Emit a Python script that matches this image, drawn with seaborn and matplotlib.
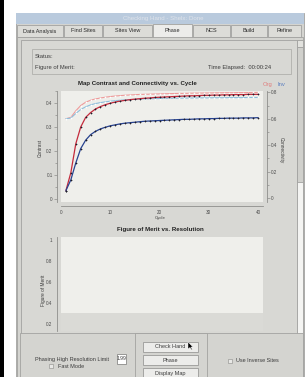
import pandas as pd
import seaborn as sns
import matplotlib.pyplot as plt
from matplotlib.patches import Rectangle, Polygon
from matplotlib.ticker import MultipleLocator, FuncFormatter

# chart data
cycles = list(range(1, 41))
contrast_org = [0.035, 0.110, 0.230, 0.300, 0.340, 0.360, 0.375, 0.385, 0.393, 0.399,
                0.404, 0.408, 0.411, 0.414, 0.416, 0.418, 0.420, 0.421, 0.423, 0.424,
                0.425, 0.426, 0.427, 0.428, 0.429, 0.430, 0.430, 0.431, 0.432, 0.432,
                0.433, 0.433, 0.434, 0.434, 0.435, 0.435, 0.435, 0.436, 0.436, 0.436]
contrast_inv = [0.035, 0.080, 0.150, 0.210, 0.245, 0.268, 0.282, 0.292, 0.299, 0.305,
                0.309, 0.313, 0.316, 0.318, 0.320, 0.322, 0.324, 0.325, 0.326, 0.327,
                0.328, 0.329, 0.330, 0.331, 0.332, 0.332, 0.333, 0.334, 0.334, 0.335,
                0.335, 0.336, 0.336, 0.337, 0.337, 0.337, 0.338, 0.338, 0.338, 0.339]
connect_org = [0.600, 0.610, 0.660, 0.700, 0.725, 0.740, 0.750, 0.757, 0.763, 0.768,
               0.772, 0.775, 0.778, 0.780, 0.782, 0.784, 0.785, 0.786, 0.787, 0.788,
               0.789, 0.790, 0.791, 0.792, 0.792, 0.793, 0.794, 0.794, 0.795, 0.795,
               0.796, 0.796, 0.797, 0.797, 0.797, 0.798, 0.798, 0.798, 0.799, 0.799]
connect_inv = [0.600, 0.605, 0.640, 0.670, 0.690, 0.705, 0.715, 0.722, 0.728, 0.733,
               0.737, 0.740, 0.743, 0.745, 0.747, 0.749, 0.750, 0.751, 0.752, 0.753,
               0.754, 0.755, 0.755, 0.756, 0.756, 0.757, 0.757, 0.758, 0.758, 0.758,
               0.759, 0.759, 0.759, 0.760, 0.760, 0.760, 0.760, 0.761, 0.761, 0.761]
tab_names = ['Data Analysis', 'Find Sites', 'Sites View', 'Phase', 'NCS', 'Build', 'Refine']

sns.set_theme(style='white')
plt.rcParams['font.family'] = ['Liberation Sans', 'DejaVu Sans']

W, H = 305, 377
fig = plt.figure(figsize=(W / 100, H / 100), dpi=100)
fig.patch.set_facecolor('white')

GUI = '#d4d4d0'
FACE = '#efefeb'
EDGE = '#a2a2a0'
TXT = '#3c3c3c'


def fbox(x0, y0, x1, y1):
    # pixel box (top-left origin) -> figure fraction rect
    return [x0 / W, 1 - y1 / H, (x1 - x0) / W, (y1 - y0) / H]


# background layer for the window chrome
bg = fig.add_axes([0, 0, 1, 1])
bg.set_xlim(0, W)
bg.set_ylim(H, 0)
bg.axis('off')
bg.set_zorder(-5)


def rect(x0, y0, x1, y1, fc, ec='none', lw=0.6):
    bg.add_patch(Rectangle((x0, y0), x1 - x0, y1 - y0, facecolor=fc, edgecolor=ec, linewidth=lw))


def label(x, y, s, size=4.2, **kw):
    kw.setdefault('color', TXT)
    kw.setdefault('ha', 'left')
    bg.text(x, y, s, fontsize=size, va='center', **kw)


rect(0, 0, 4, H, 'black')
rect(16, 13, 304, H, GUI, EDGE)
rect(16, 13, 304, 24, '#b9cadd')
label(163, 18.5, 'Checking Hand - Shelx: Done', size=4.4, color='#dfe3ea', ha='center')

# tabs
tab_edges = [17, 64, 103, 153, 193, 231, 268, 302]
for i, name in enumerate(tab_names):
    x0, x1 = tab_edges[i], tab_edges[i + 1] - 1
    selected = name == 'Phase'
    rect(x0, 24 if selected else 25, x1, 38 if selected else 37,
         '#ececea' if selected else '#dcdcd8', EDGE)
    label((x0 + x1) / 2, 31, name, size=4.0, ha='center', color='#2a2a2a')

# content panel + scrollbar
rect(17, 37, 303, H, GUI, EDGE)
rect(21, 40, 297, H, '#d8d8d4', EDGE)
rect(297, 40, 303, 371, '#f4f4f2', EDGE)
rect(297, 40, 303, 47, '#e2e2de', EDGE)
rect(297, 47, 303, 182, '#d0d0cc', EDGE)

# status box
rect(32, 49, 291, 74, 'none', '#b0b0ac')
label(35, 57, 'Status:')
label(35, 67, 'Figure of Merit:')
label(271, 67, 'Time Elapsed:  00:00:24', ha='right')

# plot titles and labels
label(137, 84, 'Map Contrast and Connectivity vs. Cycle', size=4.4,
      ha='center', fontweight='bold', color='#222222')
label(263, 84.5, 'Org', size=4.2, color='#e07a7a')
label(277, 84.5, 'Inv', size=4.2, color='#5a7ec0')
label(40, 148, 'Contrast', size=3.4, ha='center', rotation=90)
label(281, 150, 'Connectivity', size=3.4, ha='center', rotation=-90)
label(160, 218.5, 'Cycle', size=3.2, ha='center')
label(160, 230, 'Figure of Merit vs. Resolution', size=4.4,
      ha='center', fontweight='bold', color='#222222')
label(43, 290, 'Figure of Merit', size=3.4, ha='center', rotation=90)

# bottom control panel
rect(20, 333, 303, H, GUI, EDGE)
rect(135, 333, 207, H, GUI, EDGE)
label(72, 359, 'Phasing High Resolution Limit', size=4.0, ha='center')
rect(117, 354, 126, 364, 'white', '#8a8a88')
label(121.5, 359, '1.99', size=3.6, ha='center')
rect(49, 364, 53, 368, '#e8e8e6', '#8a8a88', 0.4)
label(58, 366.5, 'Fast Mode', size=4.0)
for y0, txt in [(342, 'Check Hand'), (355, 'Phase'), (368, 'Display Map')]:
    rect(143, y0, 198, y0 + 10, '#ececea', '#9a9a98')
    label(170.5, y0 + 5, txt, size=4.0, ha='center')
bg.add_patch(Polygon([[188, 342], [188, 349], [190, 347.5], [191.5, 350],
                      [192.3, 349.6], [191, 347], [193, 347]], closed=True,
                     facecolor='black', edgecolor='white', linewidth=0.3))
rect(228, 359, 232, 363, '#e8e8e6', '#8a8a88', 0.4)
label(236, 361, 'Use Inverse Sites', size=4.0)

# --- Map Contrast / Connectivity plot ---
df_contrast = pd.DataFrame({
    'Cycle': cycles * 2,
    'Value': contrast_org + contrast_inv,
    'Map': ['Org'] * len(cycles) + ['Inv'] * len(cycles),
})
df_connect = pd.DataFrame({
    'Cycle': cycles * 2,
    'Value': connect_org + connect_inv,
    'Map': ['Org'] * len(cycles) + ['Inv'] * len(cycles),
})

fmt = FuncFormatter(lambda v, p: '%g' % round(v, 2))


def style_axis(ax, sides):
    for side in ['left', 'right', 'top', 'bottom']:
        sp = ax.spines[side]
        if side in sides:
            sp.set_visible(True)
            sp.set_position(('outward', 3))
            sp.set_color('#8e8e8c')
            sp.set_linewidth(0.6)
        else:
            sp.set_visible(False)
    ax.tick_params(which='both', direction='out', colors='#8e8e8c',
                   labelcolor='#4a4a4a', labelsize=3.3, width=0.5, pad=0.8)
    ax.tick_params(which='major', length=2.2)
    ax.tick_params(which='minor', length=1.3)


ax1 = fig.add_axes(fbox(61, 91, 263, 202))
ax1.set_facecolor(FACE)
ax1r = ax1.twinx()

sns.lineplot(data=df_connect, x='Cycle', y='Value', hue='Map',
             palette={'Org': '#ee9a9a', 'Inv': '#8ebedb'}, ax=ax1r, legend=False,
             marker='+', markersize=1.6, markeredgewidth=0.4, linewidth=0.8)
sns.lineplot(data=df_contrast, x='Cycle', y='Value', hue='Map',
             palette={'Org': '#c42a3c', 'Inv': '#27428f'}, ax=ax1, legend=False,
             marker='+', markersize=2.0, markeredgewidth=0.5, markeredgecolor='#1e1e2a',
             linewidth=0.9)
ax1.set_zorder(2)
ax1r.set_zorder(1)
ax1.patch.set_visible(False)
ax1r.patch.set_visible(True)
ax1r.set_facecolor(FACE)

ax1.set_xlim(0, 41)
ax1.set_ylim(-0.0125, 0.45)
ax1r.set_ylim(-0.03, 0.81)
ax1.xaxis.set_major_locator(MultipleLocator(10))
ax1.xaxis.set_minor_locator(MultipleLocator(5))
ax1.yaxis.set_major_locator(MultipleLocator(0.1))
ax1.yaxis.set_minor_locator(MultipleLocator(0.05))
ax1r.yaxis.set_major_locator(MultipleLocator(0.2))
ax1r.yaxis.set_minor_locator(MultipleLocator(0.1))
ax1.yaxis.set_major_formatter(fmt)
ax1r.yaxis.set_major_formatter(fmt)
ax1.set_xlabel('')
ax1.set_ylabel('')
ax1r.set_ylabel('')
style_axis(ax1, ['left', 'bottom'])
style_axis(ax1r, ['right'])

# --- Figure of Merit plot (clipped by the control panel) ---
ax2 = fig.add_axes(fbox(61, 237, 263, 331))
ax2.set_facecolor(FACE)
ax2.set_ylim(0.133, 1.029)
ax2.set_xlim(0, 1)
ax2.axhspan(0.133, 0.305, color='#dadad6', lw=0)
ax2.yaxis.set_major_locator(MultipleLocator(0.2))
ax2.yaxis.set_minor_locator(MultipleLocator(0.1))
ax2.yaxis.set_major_formatter(fmt)
ax2.set_xticks([])
style_axis(ax2, ['left'])

fig.savefig('out.png', dpi=100)
